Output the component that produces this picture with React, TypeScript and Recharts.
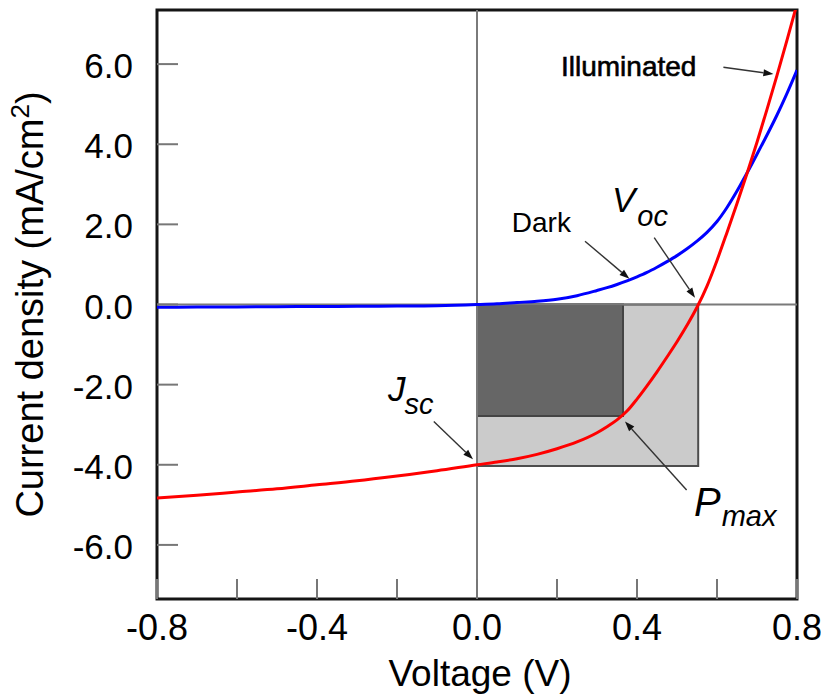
import {
  LineChart,
  Line,
  XAxis,
  YAxis,
  ReferenceArea,
  ReferenceLine,
  ReferenceDot,
} from "recharts";

const volts = [
  -0.8, -0.7, -0.6, -0.5, -0.4, -0.3, -0.2, -0.1, 0, 0.05, 0.1, 0.15, 0.2,
  0.25, 0.3, 0.325, 0.35, 0.375, 0.4, 0.425, 0.45, 0.475, 0.5, 0.525, 0.55,
  0.575, 0.6, 0.625, 0.65, 0.675, 0.7, 0.725, 0.75, 0.775, 0.8,
];
const illuminated = [
  -4.83, -4.76, -4.68, -4.6, -4.5, -4.4, -4.28, -4.15, -4.0, -3.93, -3.85,
  -3.74, -3.6, -3.43, -3.2, -3.05, -2.88, -2.66, -2.36, -2.03, -1.68, -1.31,
  -0.93, -0.52, -0.07, 0.46, 1.1, 1.8, 2.52, 3.27, 4.05, 4.87, 5.72, 6.6, 7.5,
];
const dark = [
  -0.07, -0.065, -0.06, -0.055, -0.05, -0.045, -0.04, -0.03, 0, 0.02, 0.05,
  0.08, 0.13, 0.22, 0.35, 0.42, 0.5, 0.59, 0.69, 0.8, 0.93, 1.07, 1.22, 1.39,
  1.58, 1.8, 2.07, 2.42, 2.83, 3.28, 3.75, 4.23, 4.73, 5.27, 5.85,
];

const xTicks = [-0.8, -0.6, -0.4, -0.2, 0, 0.2, 0.4, 0.6, 0.8];
const yTicks = [-6, -4, -2, 0, 2, 4, 6];

// key points on the illuminated curve
const vOc = 0.553;
const jSc = -4.03;
const vMp = 0.365;
const jMp = -2.78;

const data = volts.map((v, i) => ({ v, light: illuminated[i], dark: dark[i] }));

const font = "'Liberation Sans', Arial, sans-serif";
const yMax = 7.35;

const arrows = [
  { from: [0.616, 5.92], to: [0.741, 5.75] },
  { from: [0.27, 1.58], to: [0.381, 0.64] },
  { from: [0.443, 1.67], to: [0.545, 0.17] },
  { from: [-0.108, -2.92], to: [-0.01, -3.86] },
  { from: [0.524, -4.63], to: [0.37, -2.92] },
];

const XTick = ({ x, y, payload }: any) => {
  const v = payload.value;
  const show = Math.round(v * 10) % 4 === 0;
  return (
    <g>
      <line x1={x} y1={y} x2={x} y2={y - 20} stroke="#777" strokeWidth={2} />
      {show && (
        <text x={x} y={y + 41} textAnchor="middle" fontSize={36} fontFamily={font} fill="#000">
          {v.toFixed(1)}
        </text>
      )}
    </g>
  );
};

const YTick = ({ x, y, payload }: any) => (
  <g>
    <line x1={x} y1={y} x2={x + 21} y2={y} stroke="#777" strokeWidth={2} />
    <text x={x - 24} y={y + 14} textAnchor="end" fontSize={35} fontFamily={font} fill="#000">
      {payload.value.toFixed(1)}
    </text>
  </g>
);

const arrowShape = (props: any) => {
  const { x1, y1, x2, y2 } = props;
  const dx = x2 - x1;
  const dy = y2 - y1;
  const len = Math.sqrt(dx * dx + dy * dy);
  const ux = dx / len;
  const uy = dy / len;
  const bx = x2 - ux * 10;
  const by = y2 - uy * 10;
  const pts = `${x2},${y2} ${bx - uy * 3.5},${by + ux * 3.5} ${bx + uy * 3.5},${by - ux * 3.5}`;
  return (
    <g>
      <line x1={x1} y1={y1} x2={bx} y2={by} stroke="#333" strokeWidth={1.4} />
      <polygon points={pts} fill="#111" />
    </g>
  );
};

const note = (render: (cx: number, cy: number) => any) => (props: any) =>
  render(props.cx, props.cy);

const yTitle = (props: any) => {
  const { viewBox } = props;
  const cy = viewBox.y + viewBox.height / 2;
  return (
    <text
      transform={`translate(43, ${cy}) rotate(-90)`}
      textAnchor="middle"
      fontSize={38}
      fontFamily={font}
      fill="#000"
    >
      Current density (mA/cm
      <tspan fontSize={26} dy={-14}>2</tspan>
      <tspan dy={14}>)</tspan>
    </text>
  );
};

const xTitle = (props: any) => {
  const { viewBox } = props;
  return (
    <text
      x={viewBox.x + viewBox.width / 2 + 3}
      y={686}
      textAnchor="middle"
      fontSize={37}
      fontFamily={font}
      fill="#000"
    >
      Voltage (V)
    </text>
  );
};

export default function App() {
  return (
    <div style={{ position: "absolute", left: 0, top: 0, background: "#fff" }}>
      <LineChart
        width={821}
        height={697}
        data={data}
        margin={{ top: 10, right: 24, left: 0, bottom: 0 }}
      >
        <XAxis
          type="number"
          dataKey="v"
          domain={[-0.8, 0.8]}
          ticks={xTicks}
          interval={0}
          allowDataOverflow
          height={98}
          axisLine={false}
          tickLine={false}
          tickSize={0}
          tickMargin={0}
          tick={(p: any) => <XTick {...p} />}
          label={{ content: xTitle }}
        />
        <YAxis
          type="number"
          domain={[-yMax, yMax]}
          ticks={yTicks}
          interval={0}
          allowDataOverflow
          width={157}
          axisLine={false}
          tickLine={false}
          tickSize={0}
          tickMargin={0}
          tick={(p: any) => <YTick {...p} />}
          label={{ content: yTitle }}
        />
        <ReferenceArea
          x1={0}
          x2={vOc}
          y1={jSc}
          y2={0}
          fill="#cbcbcb"
          fillOpacity={1}
          stroke="#4d4d4d"
          strokeWidth={2}
        />
        <ReferenceArea
          x1={0}
          x2={vMp}
          y1={jMp}
          y2={0}
          fill="#666666"
          fillOpacity={1}
          stroke="#444"
          strokeWidth={2}
        />
        <ReferenceLine x={0} stroke="#7a7a7a" strokeWidth={2} />
        <ReferenceLine y={0} stroke="#7a7a7a" strokeWidth={2} />
        <Line
          type="monotone"
          dataKey="dark"
          stroke="#0000ff"
          strokeWidth={3}
          dot={false}
          isAnimationActive={false}
        />
        <Line
          type="monotone"
          dataKey="light"
          stroke="#ff0000"
          strokeWidth={3}
          dot={false}
          isAnimationActive={false}
        />
        <ReferenceArea
          x1={-0.8}
          x2={0.8}
          y1={-yMax}
          y2={yMax}
          fill="none"
          stroke="#151515"
          strokeWidth={3}
        />
        {arrows.map((a, i) => (
          <ReferenceLine
            key={i}
            segment={[
              { x: a.from[0], y: a.from[1] },
              { x: a.to[0], y: a.to[1] },
            ]}
            shape={arrowShape}
          />
        ))}
        <ReferenceDot
          x={0.21}
          y={5.71}
          shape={note((cx, cy) => (
            <text x={cx} y={cy} fontSize={28} fontFamily={font} fill="#000" stroke="#000" strokeWidth={0.6}>
              Illuminated
            </text>
          ))}
        />
        <ReferenceDot
          x={0.087}
          y={1.8}
          shape={note((cx, cy) => (
            <text x={cx} y={cy} fontSize={28} fontFamily={font} fill="#000">
              Dark
            </text>
          ))}
        />
        <ReferenceDot
          x={0.3375}
          y={2.3}
          shape={note((cx, cy) => (
            <text x={cx} y={cy} fontSize={35} fontStyle="italic" fontFamily={font} fill="#000">
              V
              <tspan fontSize={29} dx={2} dy={14}>oc</tspan>
            </text>
          ))}
        />
        <ReferenceDot
          x={-0.2225}
          y={-2.42}
          shape={note((cx, cy) => (
            <text x={cx} y={cy} fontSize={35} fontStyle="italic" fontFamily={font} fill="#000">
              J
              <tspan fontSize={29} dx={-1} dy={13}>sc</tspan>
            </text>
          ))}
        />
        <ReferenceDot
          x={0.5425}
          y={-5.29}
          shape={note((cx, cy) => (
            <text x={cx} y={cy} fontSize={40} fontStyle="italic" fontFamily={font} fill="#000">
              P
              <tspan fontSize={29} dx={1} dy={10}>max</tspan>
            </text>
          ))}
        />
      </LineChart>
    </div>
  );
}
